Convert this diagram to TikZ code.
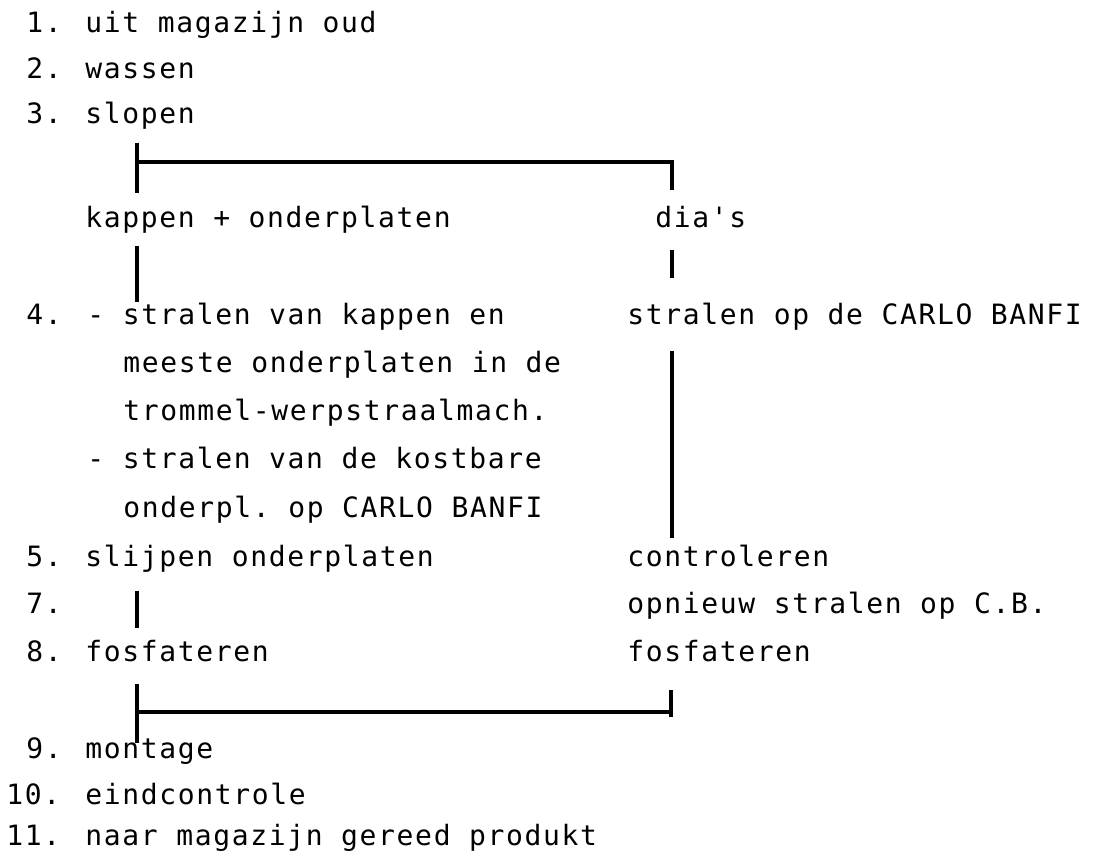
\documentclass[tikz,border=0pt]{standalone}
\usepackage{fontspec}
\setmonofont[LetterSpace=5.9]{DejaVu Sans Mono}

\begin{document}
\begin{tikzpicture}[x=0.5pt,y=-0.5pt]
    % Define styles
    \tikzstyle{item} = [anchor=base west, inner sep=0pt, font=\ttfamily\fontsize{14}{16}\selectfont]
    \tikzstyle{num} = [item]
    \tikzstyle{bar} = [line width=1.6pt]

    \useasboundingbox (0,0) rectangle (1118,865);

    % Steps 1-3
    \node (n1) [num] at (26,33) {1.};
    \node (uit) [item] at (85,33) {uit magazijn oud};
    \node (n2) [num] at (26,79) {2.};
    \node (wassen) [item] at (85,79) {wassen};
    \node (n3) [num] at (26,124) {3.};
    \node (slopen) [item] at (85,124) {slopen};

    % Two branches
    \node (kappen) [item] at (85,228) {kappen + onderplaten};
    \node (dias) [item] at (655,228) {dia's};

    % Step 4
    \node (n4) [num] at (26,325) {4.};
    \node (stralenA) [item] at (87,325) {- stralen van kappen en};
    \node (meeste) [item] at (123,373) {meeste onderplaten in de};
    \node (trommel) [item] at (123,421) {trommel-werpstraalmach.};
    \node (stralenB) [item] at (87,469) {- stralen van de kostbare};
    \node (onderpl) [item] at (123,517) {onderpl. op CARLO BANFI};
    \node (banfi) [item] at (627,325) {stralen op de CARLO BANFI};

    % Steps 5-8
    \node (n5) [num] at (26,566) {5.};
    \node (slijpen) [item] at (85,566) {slijpen onderplaten};
    \node (controle) [item] at (627,566) {controleren};
    \node (n7) [num] at (26,613) {7.};
    \node (opnieuw) [item] at (627,613) {opnieuw stralen op C.B.};
    \node (n8) [num] at (26,661) {8.};
    \node (fosfL) [item] at (85,661) {fosfateren};
    \node (fosfR) [item] at (627,661) {fosfateren};

    % Steps 9-11
    \node (n9) [num] at (26,758) {9.};
    \node (montage) [item] at (85,758) {montage};
    \node (n10) [num] at (6,804) {10.};
    \node (eind) [item] at (85,804) {eindcontrole};
    \node (n11) [num] at (6,845) {11.};
    \node (gereed) [item] at (85,845) {naar magazijn gereed produkt};

    % Bracket points
    \coordinate (splitT) at (137,143);
    \coordinate (splitB) at (137,193);
    \coordinate (splitR) at (672,162);
    \coordinate (splitRB) at (672,190);
    \coordinate (kapT) at (137,246);
    \coordinate (kapB) at (137,302);
    \coordinate (diaT) at (672,250);
    \coordinate (diaB) at (672,278);
    \coordinate (cbT) at (672,351);
    \coordinate (cbB) at (672,538);
    \coordinate (sevT) at (137,591);
    \coordinate (sevB) at (137,628);
    \coordinate (joinT) at (137,684);
    \coordinate (joinB) at (137,743);
    \coordinate (joinR) at (671,712);
    \coordinate (joinRT) at (671,690);

    % Lines
    \draw [bar] (splitT) -- (splitB);
    \draw [bar] (splitT |- splitR) -- (splitR) -- (splitRB);
    \draw [bar] (kapT) -- (kapB);
    \draw [bar] (diaT) -- (diaB);
    \draw [bar] (cbT) -- (cbB);
    \draw [bar] (sevT) -- (sevB);
    \draw [bar] (joinT) -- (joinB);
    \draw [bar] (joinT |- joinR) -- (joinR);
    \draw [bar] (joinRT) -- (joinR |- 0,717);
\end{tikzpicture}
\end{document}
